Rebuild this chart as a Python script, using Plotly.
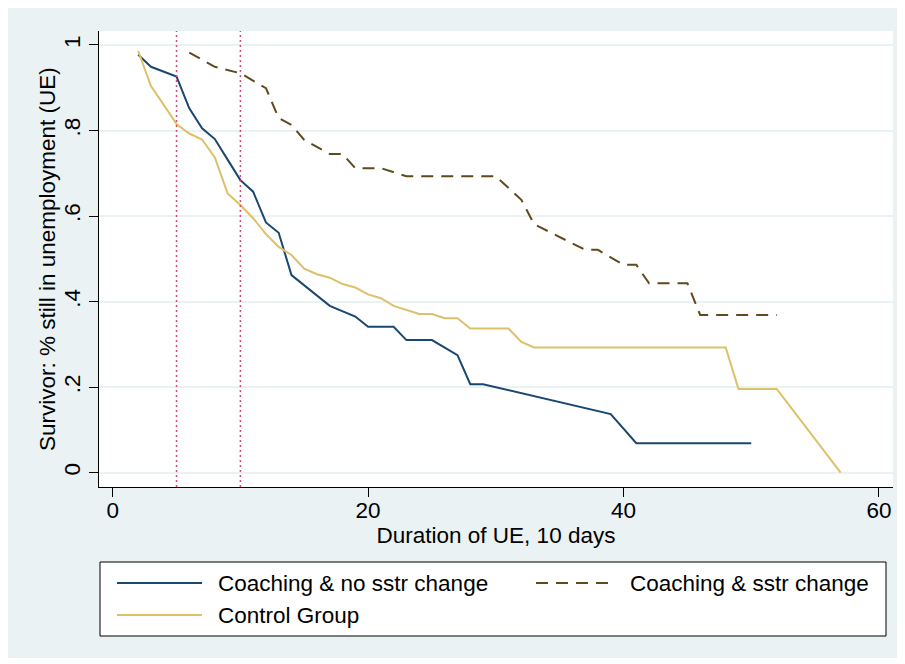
import plotly.graph_objects as go

# ---------------- data ----------------
navy_name = "Coaching & no sstr change"
navy_x = [2, 3, 5, 6, 7, 8, 9, 10, 11, 12, 13, 14, 17, 19, 20, 22, 23, 25, 27, 28, 29, 39, 41, 50]
navy_y = [0.977, 0.949, 0.926, 0.852, 0.805, 0.780, 0.732, 0.684, 0.657, 0.585, 0.561, 0.462,
          0.390, 0.365, 0.341, 0.341, 0.310, 0.310, 0.275, 0.207, 0.207, 0.137, 0.069, 0.069]

sstr_name = "Coaching & sstr change"
sstr_x = [6, 8, 10, 12, 13, 14, 15, 17, 18, 19, 21, 23, 30, 32, 33, 37, 38, 40, 41, 42, 45, 46, 52]
sstr_y = [0.982, 0.949, 0.934, 0.899, 0.829, 0.813, 0.778, 0.745, 0.745, 0.712, 0.712, 0.693,
          0.693, 0.638, 0.581, 0.521, 0.521, 0.486, 0.486, 0.443, 0.443, 0.369, 0.369]

ctrl_name = "Control Group"
ctrl_x = [2, 3, 4, 5, 6, 7, 8, 9, 10, 11, 12, 13, 14, 15, 16, 17, 18, 19, 20, 21, 22, 23, 24,
          25, 26, 27, 28, 31, 32, 33, 48, 49, 52, 57]
ctrl_y = [0.986, 0.904, 0.860, 0.815, 0.793, 0.779, 0.737, 0.653, 0.626, 0.595, 0.558, 0.528,
          0.509, 0.477, 0.464, 0.456, 0.441, 0.433, 0.417, 0.408, 0.390, 0.380, 0.371, 0.371,
          0.361, 0.361, 0.337, 0.337, 0.306, 0.293, 0.293, 0.196, 0.196, 0.0]

ref_lines_x = [5, 10]

x_ticks = [0, 20, 40, 60]
y_ticks = [0, 0.2, 0.4, 0.6, 0.8, 1]
y_tick_labels = ["0", ".2", ".4", ".6", ".8", "1"]

x_title = "Duration of UE, 10 days"
y_title = "Survivor: % still in unemployment (UE)"

# ---------------- styles / layout ----------------
# the page body adds an 8px margin, so the figure starts at (8, 8) in the window
OX, OY = 8, 8
W, H = 889, 650
PL, PR, PT, PB = 99, 893, 31, 487          # plot area in window pixels
ML, MR, MT, MB = PL - OX, W - (PR - OX), PT - OY, H - (PB - OY)
PW, PH = PR - PL, PB - PT
FONT = "Liberation Sans, Arial, sans-serif"
FS = 22.5
BG = "#eaf2f3"
NAVY = "#1a476f"
BROWN = "#5f4a1c"
SAND = "#dcc168"
PINK = "#d9467a"


def px_x(p):
    return (p - PL) / PW


def px_y(p):
    return (PB - p) / PH


fig = go.Figure()
fig.add_trace(go.Scatter(x=navy_x, y=navy_y, mode="lines", name=navy_name,
                         line=dict(color=NAVY, width=2)))
fig.add_trace(go.Scatter(x=sstr_x, y=sstr_y, mode="lines", name=sstr_name,
                         line=dict(color=BROWN, width=2, dash="12px,8px")))
fig.add_trace(go.Scatter(x=ctrl_x, y=ctrl_y, mode="lines", name=ctrl_name,
                         line=dict(color=SAND, width=2)))

shapes = []
for xv in ref_lines_x:
    shapes.append(dict(type="line", xref="x", yref="paper", x0=xv, x1=xv, y0=0, y1=1,
                       line=dict(color=PINK, width=1.5, dash="2px,3px"), layer="above"))

# legend box (drawn by hand to match the Stata layout)
shapes.append(dict(type="rect", xref="paper", yref="paper",
                   x0=px_x(100), x1=px_x(886), y0=px_y(636), y1=px_y(562),
                   line=dict(color="black", width=1), fillcolor="white"))

legend_items = [
    (navy_name, NAVY, "solid", 117, 202, 216, 583),
    (sstr_name, BROWN, "12px,8px", 536, 614, 628, 583),
    (ctrl_name, SAND, "solid", 117, 202, 216, 615),
]
annotations = []
for name, col, dash, sx0, sx1, tx, ty in legend_items:
    shapes.append(dict(type="line", xref="paper", yref="paper",
                       x0=px_x(sx0), x1=px_x(sx1), y0=px_y(ty), y1=px_y(ty),
                       line=dict(color=col, width=2, dash=dash)))
    annotations.append(dict(xref="paper", yref="paper", x=px_x(tx), y=px_y(ty),
                            xanchor="left", yanchor="middle", showarrow=False,
                            text=name, font=dict(family=FONT, size=FS, color="black")))

# y-axis title
annotations.append(dict(xref="paper", yref="paper", x=px_x(47), y=0.5,
                        xanchor="center", yanchor="middle", showarrow=False,
                        textangle=-90, text=y_title,
                        font=dict(family=FONT, size=FS, color="black")))

fig.update_layout(
    width=W, height=H,
    margin=dict(l=ML, r=MR, t=MT, b=MB, pad=0),
    paper_bgcolor=BG,
    plot_bgcolor="white",
    showlegend=False,
    font=dict(family=FONT, size=FS, color="black"),
    shapes=shapes,
    annotations=annotations,
    xaxis=dict(
        range=[-1.07, 61.1],
        tickvals=x_ticks,
        ticks="outside", ticklen=9, tickwidth=1, tickcolor="black",
        ticklabelstandoff=-6,
        showline=True, linecolor="black", linewidth=1,
        showgrid=False, zeroline=False,
        tickfont=dict(family=FONT, size=FS, color="black"),
        title=dict(text=x_title, standoff=4, font=dict(family=FONT, size=FS, color="black")),
    ),
    yaxis=dict(
        range=[-0.0334, 1.0327],
        tickvals=y_ticks, ticktext=y_tick_labels,
        tickangle=-90,
        ticks="outside", ticklen=9, tickwidth=1, tickcolor="black",
        ticklabelstandoff=0,
        showline=True, linecolor="black", linewidth=1,
        showgrid=True, gridcolor=BG, gridwidth=2,
        zeroline=False,
        tickfont=dict(family=FONT, size=FS, color="black"),
    ),
)

fig.write_html("out.html")
